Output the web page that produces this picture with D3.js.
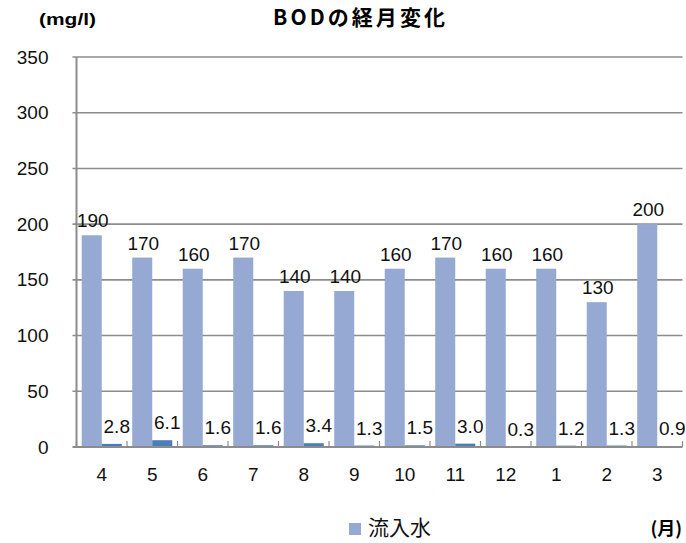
<!DOCTYPE html>
<html>
<head>
<meta charset="utf-8">
<script src="https://cdn.jsdelivr.net/npm/d3@7"></script>
<style>
  html, body { margin: 0; padding: 0; background: #fff; }
  svg { display: block; }
</style>
</head>
<body>
<script>
// Monthly BOD (mg/l): influent and treated water
const months = ["4", "5", "6", "7", "8", "9", "10", "11", "12", "1", "2", "3"];
const influent = [190, 170, 160, 170, 140, 140, 160, 170, 160, 160, 130, 200];
const treated = [2.8, 6.1, 1.6, 1.6, 3.4, 1.3, 1.5, 3.0, 0.3, 1.2, 1.3, 0.9];
const yTicks = [0, 50, 100, 150, 200, 250, 300, 350];
const seriesNames = ["流入水", "処理水"];

const W = 686, H = 543;
const margin = { left: 76.5, right: 3.5, top: 57, bottom: 96 };
const plotW = W - margin.left - margin.right;
const plotH = H - margin.top - margin.bottom;

const lightBlue = "#95A9D2";
const darkBlue = "#4A7EBB";
const gridColor = "#8C8C8C";
const numFont = "'Liberation Sans', Arial, sans-serif";
const cjkFont = "'Noto Sans CJK JP', sans-serif";

const svg = d3.select("body").append("svg")
  .attr("width", W).attr("height", H);

const g = svg.append("g")
  .attr("transform", `translate(${margin.left},${margin.top})`);

const x = d3.scaleBand().domain(months).range([0, plotW]).padding(0);
const xs = d3.scaleBand().domain(["inf", "tre"]).range([0, x.bandwidth()])
  .paddingInner(0).paddingOuter(0.26);
const y = d3.scaleLinear().domain([0, 350]).range([plotH, 0]);

// horizontal gridlines
g.append("g").selectAll("line")
  .data(yTicks.filter(t => t > 0))
  .join("line")
  .attr("x1", -4).attr("x2", plotW)
  .attr("y1", d => y(d)).attr("y2", d => y(d))
  .attr("stroke", gridColor).attr("stroke-width", 1.6);

// y axis labels
const yAxis = d3.axisLeft(y).tickValues(yTicks).tickSize(0).tickPadding(28);
const yG = g.append("g").call(yAxis);
yG.select(".domain").remove();
yG.selectAll("text")
  .attr("font-family", numFont).attr("font-size", 19).attr("fill", "#111");

// bars
const groups = g.append("g").selectAll("g")
  .data(months)
  .join("g")
  .attr("transform", d => `translate(${x(d)},0)`);

groups.append("rect")
  .attr("x", xs("inf")).attr("width", xs.bandwidth())
  .attr("y", (d, i) => y(influent[i]))
  .attr("height", (d, i) => plotH - y(influent[i]))
  .attr("fill", lightBlue);

groups.append("rect")
  .attr("x", xs("tre")).attr("width", xs.bandwidth())
  .attr("y", (d, i) => y(treated[i]))
  .attr("height", (d, i) => plotH - y(treated[i]))
  .attr("fill", darkBlue);

// value labels
groups.append("text")
  .attr("x", xs("inf") + xs.bandwidth() / 2 + 1)
  .attr("y", (d, i) => y(influent[i]) - 8)
  .attr("text-anchor", "middle")
  .attr("font-family", numFont).attr("font-size", 19).attr("fill", "#111")
  .text((d, i) => d3.format("d")(influent[i]));

groups.append("text")
  .attr("x", xs("tre") + xs.bandwidth() / 2 + 5)
  .attr("y", (d, i) => y(treated[i]) - 11)
  .attr("text-anchor", "middle")
  .attr("font-family", numFont).attr("font-size", 19).attr("fill", "#111")
  .text((d, i) => d3.format(".1f")(treated[i]));

// axis lines
g.append("line")
  .attr("x1", 0).attr("x2", 0).attr("y1", 0).attr("y2", plotH)
  .attr("stroke", gridColor).attr("stroke-width", 2);
g.append("line")
  .attr("x1", -4).attr("x2", plotW).attr("y1", plotH).attr("y2", plotH)
  .attr("stroke", gridColor).attr("stroke-width", 2);

// category separators on the x axis
g.append("g").selectAll("line")
  .data(months.concat(["end"]))
  .join("line")
  .attr("x1", (d, i) => i * x.step()).attr("x2", (d, i) => i * x.step())
  .attr("y1", plotH - 6).attr("y2", plotH)
  .attr("stroke", gridColor).attr("stroke-width", 1.2);

// x labels
g.append("g").selectAll("text")
  .data(months)
  .join("text")
  .attr("x", d => x(d) + x.bandwidth() / 2)
  .attr("y", plotH + 34)
  .attr("text-anchor", "middle")
  .attr("font-family", numFont).attr("font-size", 19).attr("fill", "#111")
  .text(d => d);

// title and unit labels
svg.append("text")
  .attr("x", 273).attr("y", 25)
  .attr("font-family", cjkFont).attr("font-size", 21).attr("font-weight", "bold")
  .attr("textLength", 172).attr("lengthAdjust", "spacing")
  .attr("fill", "#000")
  .text("BODの経月変化");

svg.append("text")
  .attr("x", 39).attr("y", 25)
  .attr("font-family", numFont).attr("font-size", 17).attr("font-weight", "bold")
  .attr("textLength", 57).attr("lengthAdjust", "spacingAndGlyphs")
  .attr("fill", "#000")
  .text("(mg/l)");

svg.append("text")
  .attr("x", 682).attr("y", 535)
  .attr("text-anchor", "end")
  .attr("font-family", cjkFont).attr("font-size", 18).attr("font-weight", "bold")
  .attr("fill", "#000")
  .text("(月)");

// legend (influent only)
const legend = svg.append("g").attr("transform", "translate(349,523)");
legend.append("rect")
  .attr("width", 12).attr("height", 12).attr("fill", lightBlue);
legend.append("text")
  .attr("x", 19).attr("y", 12)
  .attr("font-family", cjkFont).attr("font-size", 21).attr("fill", "#111")
  .text(seriesNames[0]);
</script>
</body>
</html>
